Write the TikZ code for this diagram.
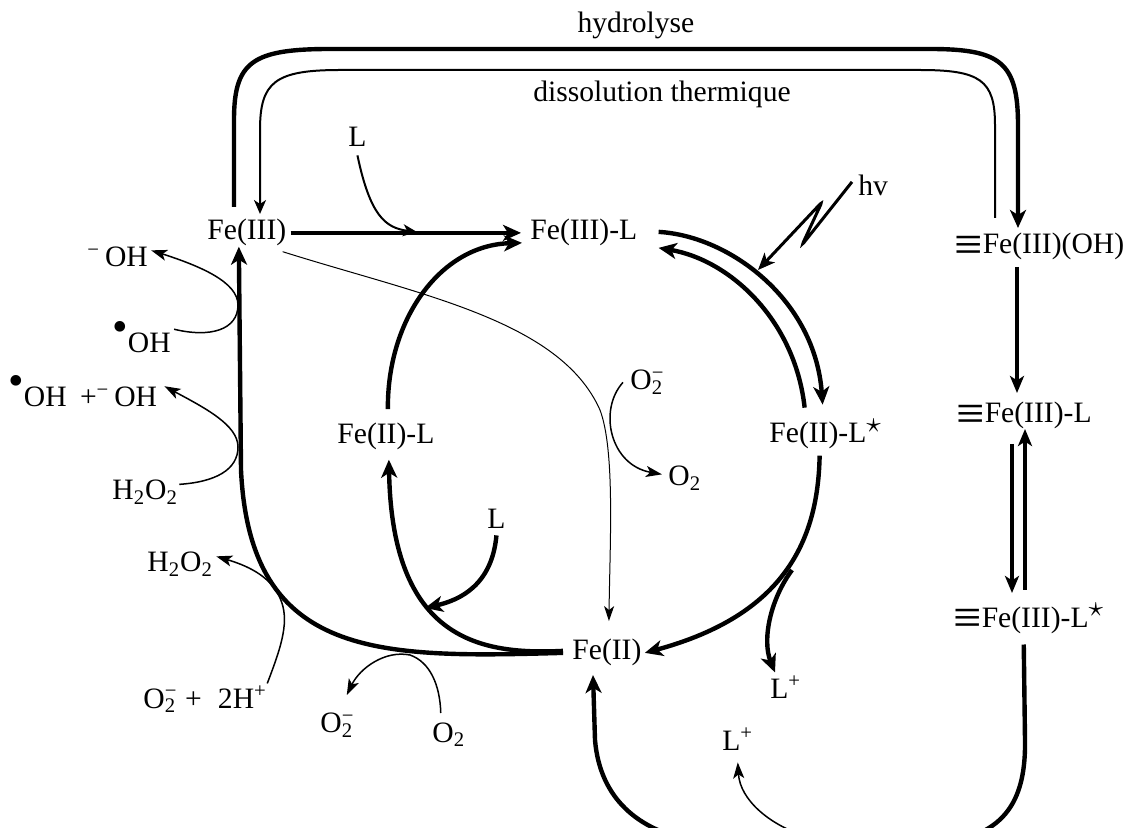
\documentclass[tikz,border=0pt]{standalone}
\usepackage{fontspec}
\usepackage{graphicx}
\setmainfont{Liberation Serif}
\usetikzlibrary{arrows.meta,calc}
\newcommand\chemsub[2]{\makebox[0pt][l]{\textsuperscript{#2}}\textsubscript{#1}}
\newcommand\raddot{\raisebox{0.40em}{\scalebox{1.5}{•}}}
\newcommand\surf{\raisebox{-0.24em}{\scalebox{1.7}{≡}}}
\newcommand\exstar{\textsuperscript{\scalebox{1.45}{$\star$}}}
\begin{document}
\begin{tikzpicture}[x=0.5pt,y=-0.5pt,
  lbl/.style={anchor=base west,inner sep=0pt,font=\fontsize{14.8}{17}\selectfont},
  thk/.style={line width=2.2pt,-{Stealth[length=9pt,width=8pt,inset=2.5pt]}},
  midarr/.style={line width=1.6pt,-{Stealth[length=8.5pt,width=7pt,inset=2.2pt]}},
  medarr/.style={line width=1pt,-{Stealth[length=7pt,width=6pt,inset=2pt]}},
  thn/.style={line width=0.75pt,-{Stealth[length=8pt,width=5.5pt,inset=2pt]}},
  hair/.style={line width=0.5pt,-{Stealth[length=7.5pt,width=5pt,inset=2pt]}}]
\useasboundingbox (0,0) rectangle (1136,828);

% ---- labels ----
\node[lbl,anchor=base] (hydro) at (636,33) {hydrolyse};
\node[lbl,anchor=base] (diss) at (662,102) {dissolution thermique};
\node[lbl] (fe3) at (207,240) {Fe(III)};
\node[lbl] (fe3l) at (530,240) {Fe(III)-L};
\node[lbl] (fe2l) at (337,444) {Fe(II)-L};
\node[lbl] (fe2ls) at (769,443) {Fe(II)-L\exstar};
\node[lbl] (fe2) at (572,660) {Fe(II)};
\node[lbl] (sfeoh) at (954,254) {\surf Fe(III)(OH)};
\node[lbl] (sfel) at (956,423) {\surf Fe(III)-L};
\node[lbl] (sfels) at (953,627) {\surf Fe(III)-L\exstar};
\node[lbl] (ltop) at (348,147) {L};
\node[lbl] (lmid) at (487,529) {L};
\node[lbl] (hv) at (858,196) {hv};
\node[lbl] (o2m1) at (630,390) {O\chemsub{2}{−}};
\node[lbl] (o2a) at (668,486) {O\textsubscript{2}};
\node[lbl] (ohm) at (87,267) {\textsuperscript{−}\,OH};
\node[lbl] (ohr) at (112,353) {\raddot OH};
\node[lbl] (ohsum) at (8,407) {\raddot OH\hspace{0.45em}+\textsuperscript{−}\,OH};
\node[lbl] (h2o2a) at (112,500) {H\textsubscript{2}O\textsubscript{2}};
\node[lbl] (h2o2b) at (147,572) {H\textsubscript{2}O\textsubscript{2}};
\node[lbl] (o2h) at (143,708) {O\chemsub{2}{−}\hspace{0.3em}+\hspace{0.55em}2H\textsuperscript{+}};
\node[lbl] (o2m2) at (320,733) {O\chemsub{2}{−}};
\node[lbl] (o2b) at (432,742) {O\textsubscript{2}};
\node[lbl] (lp1) at (770,698) {L\textsuperscript{+}};
\node[lbl] (lp2) at (722,750) {L\textsuperscript{+}};

% ---- named end points ----
\coordinate (hydS) at (234,207);
\coordinate (hydE) at (1018,228);
\coordinate (disS) at (995,218);
\coordinate (disE) at (260,214);
\coordinate (ljoin) at (417,232);
\coordinate (hvtip) at (758,270);
\coordinate (brk) at (792,570);
\coordinate (fe2bot) at (593,675);
\coordinate (lpjoin) at (805,836);

% ---- top loop ----
\draw[thk] (hydS) -- (234,120) .. controls (234,62) and (252,49) .. (330,49)
   -- (930,49) .. controls (1000,49) and (1018,62) .. (1018,125) -- (hydE);
\draw[medarr] (disS) -- (995,125) .. controls (995,80) and (980,70) .. (920,70)
   -- (340,70) .. controls (275,70) and (260,82) .. (260,130) -- (disE);

% ---- Fe(III) -> Fe(III)-L ----
\draw[thk] ($(fe3.east)+(4,0)$) -- ($(fe3l.west)+(-9,0)$);
\draw[medarr] ($(ltop.south)+(0,8)$) .. controls (370,215) and (385,228) .. (ljoin);

% ---- Fe(II)-L -> Fe(III)-L ----
\draw[thk] ($(fe2l.north)+(2,-14)$) .. controls (387,320) and (440,245) .. ($(fe3l.west)+(-8,10)$);

% ---- Fe(III) -> Fe(II) (thin) ----
\draw[hair] ($(fe3.south east)+(-4,5)$) .. controls (420,295) and (560,320) .. (600,410)
   .. controls (615,450) and (610,540) .. ($(fe2.north)+(2,-18)$);

% ---- Fe(III)-L <-> Fe(II)-L* ----
\draw[thk] ($(fe3l.east)+(21,-1)$) .. controls (730,236) and (815,300) .. ($(fe2ls.north)+(-3,-14)$);
\draw[thk] ($(fe2ls.north)+(-21,-11)$) .. controls (795,320) and (730,260) .. ($(fe3l.east)+(21,15)$);

% ---- hv ----
\draw[midarr,line width=1.5pt,rounded corners=1.5pt] ($(hv.west)+(-6,-4)$) -- (802,245) -- (822,202) -- (hvtip);

% ---- Fe(II)-L* -> Fe(II) and L+ ----
\draw[thk] ($(fe2ls.south)+(-6,6)$) .. controls (818,540) and (785,615) .. ($(fe2.east)+(3,0)$);
\draw[thk] (brk) .. controls (770,600) and (762,640) .. ($(lp1.north west)+(5,-3)$);

% ---- Fe(II) -> Fe(II)-L and L ----
\draw[thk] ($(fe2.west)+(-9,-2)$) .. controls (480,655) and (392,640) .. ($(fe2l.south)+(3,9)$);
\draw[thk] ($(lmid.south)+(0,6)$) .. controls (492,585) and (460,600) .. (425,608);

% ---- Fe(II) -> Fe(III) ----
\draw[thk] ($(fe2.west)+(-9,0)$) .. controls (380,658) and (250,660) .. (241,470)
   -- ($(fe3.south)+(-8,0)$);

% ---- side reactions on the left ----
\draw[thn] ($(ohr.east)+(3,-8)$) .. controls (210,338) and (238,330) .. (238,305)
   .. controls (238,282) and (200,266) .. ($(ohm.east)+(3,-7)$);
\draw[thn] ($(h2o2a.east)+(1,-8)$) .. controls (215,482) and (238,470) .. (238,447)
   .. controls (238,425) and (205,408) .. ($(ohsum.east)+(7,-5)$);
\draw[thn] ($(o2h.north east)+(0,-2)$) .. controls (282,645) and (290,620) .. (280,598)
   .. controls (270,575) and (245,565) .. ($(h2o2b.east)+(3,-8)$);
\draw[thn] ($(o2b.north)+(-8,-9)$) .. controls (440,685) and (430,662) .. (410,655)
   .. controls (385,650) and (360,668) .. ($(o2m2.north)+(10,-18)$);
\draw[thn] ($(o2m1.west)+(-7,0)$) .. controls (598,410) and (610,465) .. ($(o2a.west)+(-6,-4)$);

% ---- surface species ----
\draw[midarr] (1017,267) -- (1017,393);
\draw[midarr] (1012,444) -- (1012,593);
\draw[midarr] (1025,590) -- (1025,429);

% ---- bottom return (cut by the frame) ----
\begin{scope}
\clip (0,0) rectangle (1136,828);
\draw[thk] ($(sfels.south)+(-5,10)$) -- (1025,740) .. controls (1026,800) and (1005,828) .. (960,840)
   -- (690,840) .. controls (640,830) and (600,800) .. (595,740) -- (fe2bot);
\draw[thn] (lpjoin) .. controls (770,825) and (740,800) .. ($(lp2.south)+(0,12)$);
\end{scope}
\end{tikzpicture}
\end{document}
